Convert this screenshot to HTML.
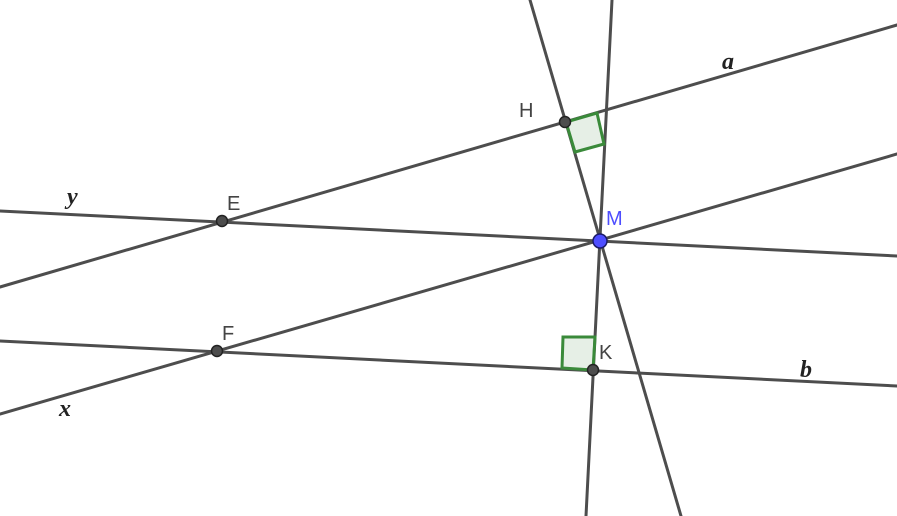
<!DOCTYPE html>
<html><head><meta charset="utf-8"><style>
html,body{margin:0;padding:0;background:#fff;}
svg{display:block}
.lbl{font-family:"Liberation Sans",sans-serif;font-size:20px;fill:#444;}
.var{font-family:"Liberation Serif",serif;font-style:italic;font-weight:bold;font-size:24px;fill:#222;}
</style></head><body>
<svg width="897" height="516" viewBox="0 0 897 516" xmlns="http://www.w3.org/2000/svg">
<g stroke="#4d4d4d" stroke-width="3" fill="none" stroke-linecap="round">
<line x1="0" y1="287" x2="897" y2="25"/>
<line x1="0" y1="414" x2="897" y2="154"/>
<line x1="0" y1="211" x2="897" y2="256"/>
<line x1="0" y1="341" x2="897" y2="386"/>
<line x1="530" y1="0" x2="681" y2="516"/>
<line x1="612" y1="0" x2="586" y2="516"/>
</g>
<polygon points="566,122 597,113 604,144 575,152" fill="#2e7d32" fill-opacity="0.12" stroke="#3a8a3a" stroke-width="3"/>
<polygon points="593,370 562,368 563,337 595,337" fill="#2e7d32" fill-opacity="0.12" stroke="#3a8a3a" stroke-width="3"/>
<g stroke="#222" stroke-width="1.5" fill="#4d4d4d">
<circle cx="565" cy="122" r="5.5"/>
<circle cx="222" cy="221" r="5.5"/>
<circle cx="217" cy="351" r="5.5"/>
<circle cx="593" cy="370" r="5.5"/>
</g>
<circle cx="600" cy="241" r="7" fill="#4d4dff" stroke="#1a1a66" stroke-width="1.5"/>
<text class="lbl" x="519" y="117">H</text>
<text class="lbl" x="227" y="210">E</text>
<text class="lbl" x="606" y="225" style="fill:#4d4dff">M</text>
<text class="lbl" x="222" y="340">F</text>
<text class="lbl" x="599" y="359">K</text>
<text class="var" x="722" y="69">a</text>
<text class="var" x="67" y="204">y</text>
<text class="var" x="59" y="416">x</text>
<text class="var" x="800" y="377">b</text>
</svg>
</body></html>
